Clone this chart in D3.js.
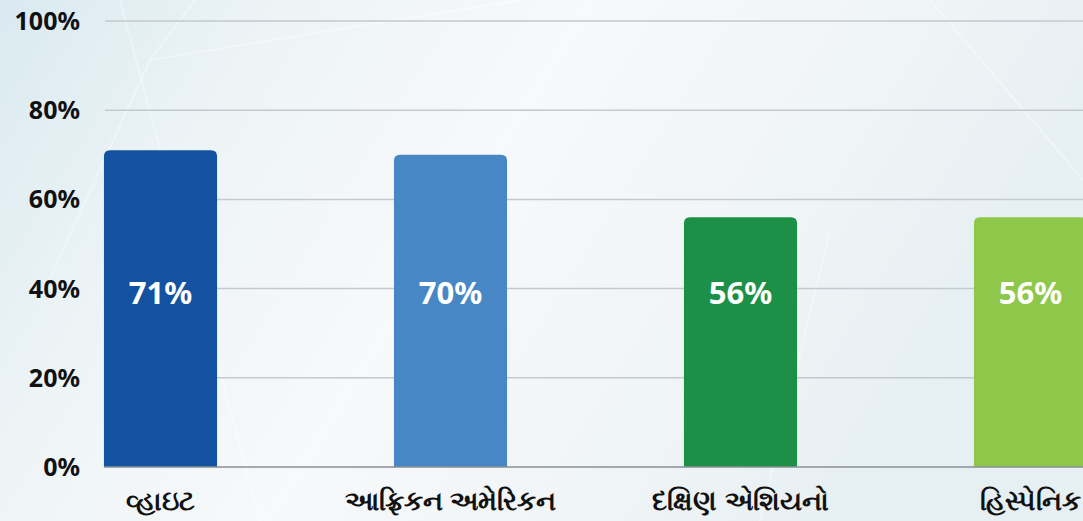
<!DOCTYPE html>
<html>
<head>
<meta charset="utf-8">
<script src="https://cdn.jsdelivr.net/npm/d3@7"></script>
<style>
  html, body { margin: 0; padding: 0; overflow: hidden; }
  body { width: 1083px; height: 521px; }
</style>
</head>
<body>
<script>
// chart data
const groups = ["વ્હાઇટ", "આફ્રિકન અમેરિકન", "દક્ષિણ એશિયનો", "હિસ્પેનિક"]
const shares = [71, 70, 56, 56]
const barColors = ["#1352a1", "#4787c6", "#1c9047", "#8fc74b"]
const yTicks = [0, 20, 40, 60, 80, 100]

const width = 1083
const height = 521

const svg = d3.select("body").append("svg")
    .attr("width", width)
    .attr("height", height)
    .attr("font-family", "'Noto Sans', 'Open Sans', sans-serif")

// soft background
const defs = svg.append("defs")
const bg = defs.append("linearGradient").attr("id", "bg")
    .attr("x1", 0).attr("y1", 0).attr("x2", 1).attr("y2", 0.3)
bg.append("stop").attr("offset", 0).attr("stop-color", "#d9eaf0")
bg.append("stop").attr("offset", 0.25).attr("stop-color", "#eef4f6")
bg.append("stop").attr("offset", 0.5).attr("stop-color", "#f7f9fa")
bg.append("stop").attr("offset", 0.8).attr("stop-color", "#eff4f6")
bg.append("stop").attr("offset", 1).attr("stop-color", "#e6eff2")
svg.append("rect").attr("width", width).attr("height", height).attr("fill", "url(#bg)")

// faint streaks in the backdrop
const streaks = [[120, 0, 260, 521], [195, 0, 150, 60], [150, 60, 40, 300], [150, 60, 520, 0], [760, 521, 830, 230], [930, 0, 1083, 180]]
svg.append("g").selectAll("line").data(streaks).join("line")
    .attr("x1", d => d[0]).attr("y1", d => d[1])
    .attr("x2", d => d[2]).attr("y2", d => d[3])
    .attr("stroke", "#ffffff").attr("stroke-opacity", 0.35).attr("stroke-width", 2)

const x = d3.scaleBand()
    .domain(groups)
    .range([15.5, 1175.5])
    .paddingInner(0.61)
    .paddingOuter(0.305)

const y = d3.scaleLinear()
    .domain([0, 100])
    .range([467, 21])

// grid
svg.append("g").selectAll("line").data(yTicks.filter(t => t > 0)).join("line")
    .attr("x1", 105).attr("x2", width)
    .attr("y1", d => y(d)).attr("y2", d => y(d))
    .attr("stroke", "#c3c9ce").attr("stroke-width", 1.5)

// y labels
svg.append("g").selectAll("text").data(yTicks).join("text")
    .attr("x", 80)
    .attr("y", d => y(d))
    .attr("dy", "0.36em")
    .attr("text-anchor", "end")
    .attr("font-size", 25)
    .attr("font-weight", "bold")
    .attr("fill", "#111")
    .text(d => d + "%")

// bars with rounded tops
const r = 6
const bar = svg.append("g").selectAll("g").data(groups).join("g")

bar.append("path")
    .attr("fill", (d, i) => barColors[i])
    .attr("d", (d, i) => {
        const x0 = x(d), w = x.bandwidth(), top = y(shares[i]), base = y(0)
        return `M${x0},${base}V${top + r}Q${x0},${top} ${x0 + r},${top}H${x0 + w - r}Q${x0 + w},${top} ${x0 + w},${top + r}V${base}Z`
    })

bar.append("text")
    .attr("x", d => x(d) + x.bandwidth() / 2)
    .attr("y", 293)
    .attr("dy", "0.36em")
    .attr("text-anchor", "middle")
    .attr("font-size", 31)
    .attr("font-weight", "bold")
    .attr("fill", "#fff")
    .text((d, i) => shares[i] + "%")

// baseline
svg.append("line")
    .attr("x1", 104).attr("x2", width)
    .attr("y1", y(0)).attr("y2", y(0))
    .attr("stroke", "#8a8f94").attr("stroke-width", 1.5)

// category labels
svg.append("g").selectAll("text").data(groups).join("text")
    .attr("x", d => x(d) + x.bandwidth() / 2)
    .attr("y", 500)
    .attr("dy", "0.36em")
    .attr("text-anchor", "middle")
    .attr("font-size", 27)
    .attr("font-weight", "bold")
    .attr("fill", "#111")
    .text(d => d)
</script>
</body>
</html>
